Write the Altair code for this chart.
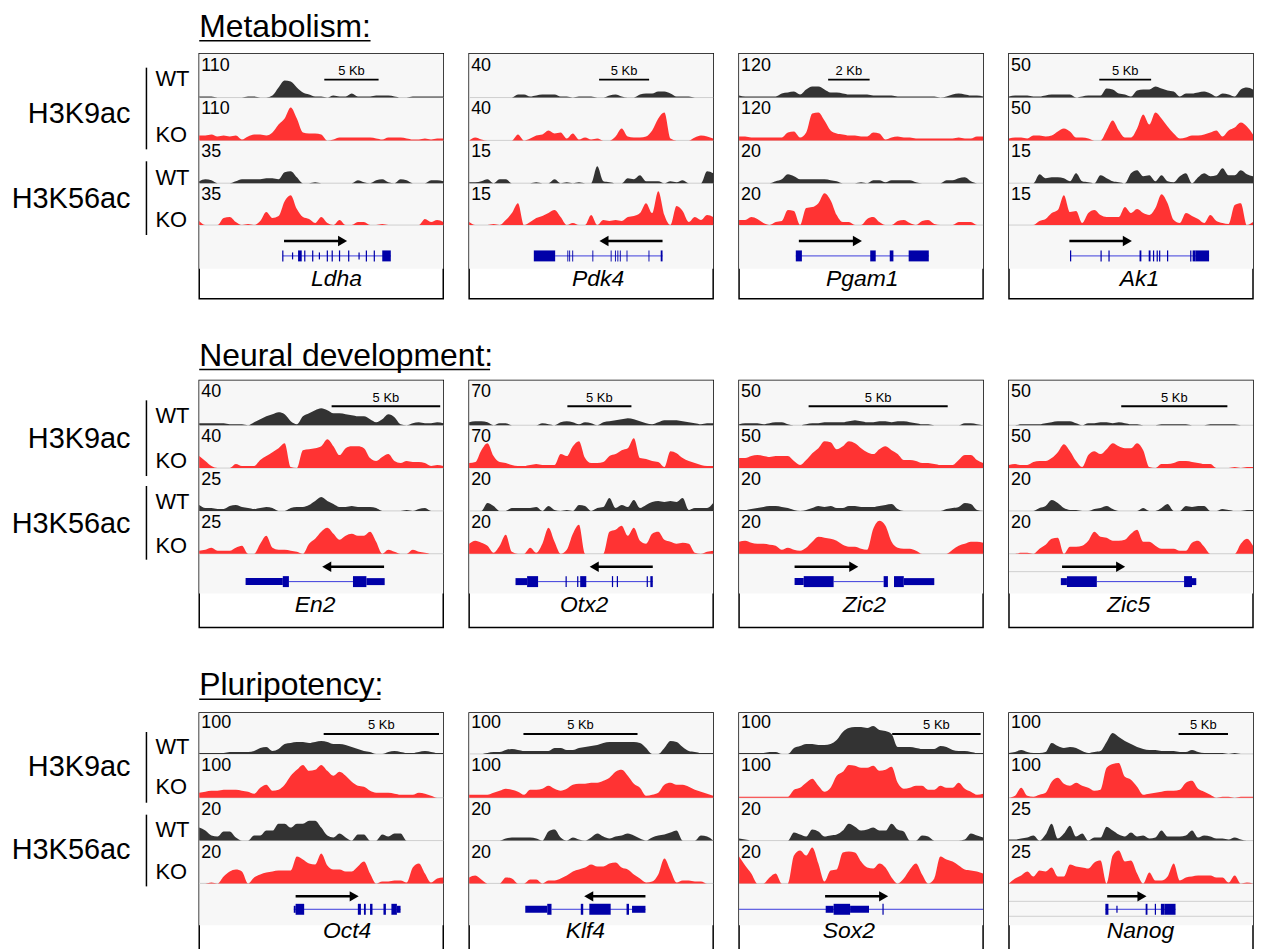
import altair as alt
import pandas as pd

FONT = "Liberation Sans"
TRACK_NAMES = ["WT_K9", "KO_K9", "WT_K56", "KO_K56"]
TRACK_COLORS = ["#333333", "#ff3333", "#333333", "#ff3333"]

# ---------------- Metabolism ----------------
LDHA_WT_K9 = [1,1,1,0,0,0,0,0,1,1,0,0,2,10,17,16,10,5,3,1,1,0,2,1,1,4,1,1,1,2,2,2,1,0,0,1,1,1,1,1,1]
LDHA_KO_K9 = [5,5,6,4,5,4,5,1,4,6,6,5,8,16,22,33,22,8,7,7,6,0,1,3,3,3,3,3,3,2,1,3,3,3,2,1,1,2,1,2,2]
LDHA_WT_K56 = [2,4,3,0,0,0,2,4,4,4,4,5,5,4,11,12,6,0,0,1,0,0,0,0,0,0,3,1,0,3,4,1,0,4,3,0,0,0,3,3,2]
LDHA_KO_K56 = [4,0,0,0,7,8,3,0,1,0,4,13,7,9,24,30,16,8,6,2,8,2,0,5,0,0,3,3,0,0,1,0,0,0,0,0,0,6,3,5,3]
LDHA_RANGES = ["110", "110", "35", "35"]
LDHA_BAR = [20.5, 29.4]
LDHA_ARROW = [13.9, 24.3]
LDHA_LINE = [13.7, 31.4]
LDHA_EXONS = [(13.6,13.8,2),(15.2,15.4,1),(16.2,16.8,2),(17.2,17.4,2),(18.5,18.7,2),(19.6,19.8,1),
              (20.9,21.1,2),(21.7,21.9,2),(22.9,23.1,2),(24.4,24.6,2),(26.1,26.3,1),(27.3,27.5,2),
              (28.6,28.8,2),(30.0,31.4,2)]

PDK4_WT_K9 = [0,0,0,0,0,0,0,0,3,3,1,2,3,3,3,1,1,0,1,1,1,0,0,2,3,1,0,0,3,4,4,6,6,4,1,1,1,0,0,0,0]
PDK4_KO_K9 = [0,3,1,0,0,0,0,0,6,0,2,5,6,10,7,8,2,7,1,3,1,2,0,0,4,12,4,3,3,4,10,22,28,2,0,0,0,3,5,4,2]
PDK4_WT_K56 = [1,1,2,4,0,4,4,0,0,0,0,1,0,0,4,0,1,0,1,0,0,17,2,1,0,0,5,4,8,2,2,2,0,2,1,3,0,0,0,12,10]
PDK4_KO_K56 = [3,0,0,0,1,0,5,12,22,0,3,7,9,12,15,8,0,2,0,0,10,0,5,4,5,4,8,9,12,22,12,34,10,0,19,14,3,8,5,10,8]
PDK4_RANGES = ["40", "40", "15", "15"]
PDK4_BAR = [21.3, 29.5]
PDK4_ARROW = [31.7, 21.3]
PDK4_LINE = [14.1, 31.7]
PDK4_EXONS = [(10.6,14.1,2),(16.1,16.25,2),(16.4,16.55,2),(16.9,17.05,2),(20.2,20.35,2),(23.2,23.35,2),
              (23.9,24.05,2),(24.3,24.45,2),(24.7,24.85,2),(25.8,25.95,2),(29.4,29.55,2),(31.4,31.7,2)]

PGAM1_WT_K9 = [2,1,1,1,1,1,1,4,5,6,3,8,11,11,8,5,5,4,3,3,3,3,2,2,2,2,1,1,1,1,1,1,1,0,1,3,4,3,2,2,1]
PGAM1_KO_K9 = [4,4,3,3,3,3,3,3,8,9,3,8,27,28,20,10,7,6,5,5,4,4,8,7,1,3,4,3,3,2,2,2,2,2,2,2,3,2,2,4,4]
PGAM1_WT_K56 = [0,0,0,0,0,0,2,4,9,7,4,4,4,4,4,3,2,0,0,0,1,0,3,3,1,3,3,3,3,1,0,0,0,0,3,3,5,6,2,0,0]
PGAM1_KO_K56 = [5,5,8,6,2,0,3,4,15,14,0,17,18,22,32,25,10,3,3,0,0,6,8,3,0,0,4,5,2,0,4,5,1,0,0,0,3,3,3,0,0]
PGAM1_RANGES = ["120", "120", "20", "20"]
PGAM1_BAR = [14.6, 21.4]
PGAM1_ARROW = [9.8, 20.2]
PGAM1_LINE = [9.3, 31.1]
PGAM1_EXONS = [(9.3,10.3,2),(21.5,22.4,2),(24.7,25.3,2),(27.8,31.1,2)]

AK1_WT_K9 = [1,2,2,2,1,1,2,3,3,3,3,0,1,2,2,2,9,8,4,3,1,7,8,8,11,9,7,6,1,4,4,5,6,4,1,4,3,1,8,10,8]
AK1_KO_K9 = [2,3,3,2,5,5,4,5,9,12,9,3,3,2,0,0,10,20,10,3,3,12,26,16,28,22,14,7,2,3,5,5,6,8,10,4,10,13,18,14,6]
AK1_WT_K56 = [0,0,0,0,0,9,5,6,6,5,2,10,2,1,0,8,5,2,1,0,10,13,7,8,2,8,2,1,7,10,0,6,10,7,8,15,8,8,13,9,7]
AK1_KO_K56 = [0,0,0,0,0,4,6,12,15,30,13,14,2,12,15,10,8,8,8,18,12,16,12,10,17,31,22,5,2,12,9,6,2,10,4,2,1,20,22,0,3]
AK1_RANGES = ["50", "50", "15", "15"]
AK1_BAR = [14.8, 23.3]
AK1_ARROW = [9.9, 20.2]
AK1_LINE = [10.1, 32.8]
AK1_EXONS = [(10.0,10.2,2),(15.0,15.2,2),(16.3,16.5,2),(21.4,21.7,2),(22.9,23.2,2),(23.6,23.8,2),
             (24.2,24.4,2),(24.6,24.8,2),(25.9,26.1,2),(29.7,29.9,2),(30.1,30.6,2),(30.6,32.8,2)]

# ---------------- Neural development ----------------
EN2_WT_K9 = [2,2,2,2,2,1,1,1,0,3,6,9,11,13,11,4,1,9,12,15,17,15,12,12,11,10,9,9,6,3,6,11,8,1,0,2,3,2,2,3,2]
EN2_KO_K9 = [12,7,2,0,0,0,4,2,2,2,8,12,16,20,25,1,0,18,19,20,22,29,22,13,20,22,22,20,10,7,11,14,7,5,7,6,6,5,2,3,2]
EN2_WT_K56 = [6,3,3,2,2,5,6,4,3,2,3,4,3,0,0,3,4,4,6,10,14,10,7,4,4,5,4,4,4,3,0,0,0,0,1,0,2,3,0,0,0]
EN2_KO_K56 = [3,4,6,3,3,3,6,8,0,0,10,18,6,4,4,3,2,0,10,15,22,26,20,14,18,20,18,18,22,12,0,4,2,0,0,4,2,1,0,0,0]
EN2_RANGES = ["40", "40", "25", "25"]
EN2_BAR = [21.7, 39.5]
EN2_ARROW = [30.3, 20.1]
EN2_LINE = [14.7, 25.2]
EN2_EXONS = [(7.6,13.7,1),(13.7,14.7,2),(25.2,27.4,2),(27.4,30.4,1)]

OTX2_WT_K9 = [3,4,4,3,0,2,2,0,0,0,0,0,2,1,0,3,4,3,1,3,2,0,3,4,5,6,7,6,4,2,1,3,5,5,5,4,3,2,1,2,2]
OTX2_KO_K9 = [5,6,18,25,12,6,5,3,2,2,3,4,3,3,3,14,12,22,27,10,5,5,6,12,14,18,20,30,10,9,7,6,1,17,15,10,7,5,3,2,2]
OTX2_WT_K56 = [0,0,0,8,5,0,0,3,3,3,3,4,0,5,1,0,1,0,6,5,0,3,4,13,3,6,4,11,3,6,9,10,9,10,9,13,1,3,3,3,8]
OTX2_KO_K56 = [10,13,11,8,1,8,19,2,0,0,6,1,10,26,12,0,4,20,29,0,0,0,0,22,24,28,18,26,13,10,20,22,14,12,10,11,10,1,0,2,3]
OTX2_RANGES = ["70", "70", "20", "20"]
OTX2_BAR = [16.1, 26.6]
OTX2_ARROW = [30.1, 19.7]
OTX2_LINE = [11.3, 30.1]
OTX2_EXONS = [(7.6,9.5,1),(9.5,11.3,2),(15.8,16.0,2),(17.7,17.9,2),(18.2,19.2,2),(23.4,23.6,2),
              (24.2,24.4,2),(29.1,29.3,2),(29.7,30.1,2)]

ZIC2_WT_K9 = [1,2,2,2,1,2,3,3,1,0,0,1,2,2,3,3,3,3,4,5,4,3,3,4,4,3,4,4,3,2,1,1,0,0,0,0,0,2,2,1,0]
ZIC2_KO_K9 = [10,10,12,13,12,11,12,12,12,7,3,8,15,20,27,26,19,22,27,25,20,16,14,19,22,18,14,8,8,7,5,5,4,3,3,3,8,13,13,8,5]
ZIC2_WT_K56 = [1,1,2,3,4,5,5,4,3,1,0,1,3,5,4,5,3,3,5,5,4,4,4,5,6,7,2,0,0,0,0,0,0,0,2,3,4,8,7,1,0]
ZIC2_KO_K56 = [12,13,11,10,10,9,8,4,6,4,3,6,12,17,16,15,13,9,7,7,5,4,25,33,28,12,6,5,5,3,0,0,0,0,0,4,8,10,12,12,11]
ZIC2_RANGES = ["50", "50", "20", "20"]
ZIC2_BAR = [11.4, 34.2]
ZIC2_ARROW = [9.1, 19.6]
ZIC2_LINE = [15.5, 23.7]
ZIC2_EXONS = [(9.1,10.6,1),(10.6,15.5,2),(23.7,24.4,2),(25.4,27.0,2),(27.0,32.0,1)]

ZIC5_WT_K9 = [0,0,1,1,1,1,2,3,4,4,4,2,0,2,2,3,3,2,3,2,1,1,0,0,0,1,1,1,1,1,0,0,0,1,1,1,1,1,0,0,0]
ZIC5_KO_K9 = [3,4,3,3,6,7,7,10,16,24,17,7,1,13,17,14,19,25,22,20,20,25,18,1,0,4,4,5,7,7,6,5,4,4,0,0,0,1,0,1,1]
ZIC5_WT_K56 = [0,0,0,0,0,3,5,11,8,3,1,1,0,0,2,3,5,2,0,0,0,0,3,0,0,3,7,0,0,5,4,5,5,0,0,2,1,0,0,1,1]
ZIC5_KO_K56 = [0,0,1,1,0,5,9,15,16,0,7,7,8,13,22,17,16,13,13,14,20,24,12,12,8,5,5,5,3,3,11,13,7,0,0,0,0,0,10,15,8]
ZIC5_RANGES = ["50", "50", "20", "20"]
ZIC5_BAR = [18.4, 35.8]
ZIC5_ARROW = [8.7, 19.1]
ZIC5_LINE = [14.4, 28.7]
ZIC5_EXONS = [(8.5,9.5,1),(9.5,14.4,2),(28.7,30.0,2),(30.0,30.7,1)]

# ---------------- Pluripotency ----------------
OCT4_WT_K9 = [1,1,1,1,1,2,2,2,2,3,6,7,3,5,10,11,12,12,11,12,13,12,10,10,9,7,5,3,2,0,0,2,3,2,1,1,2,3,2,1,1]
OCT4_KO_K9 = [5,6,7,7,8,8,8,7,6,4,10,13,7,8,13,22,28,33,27,28,33,27,22,26,22,16,12,11,7,5,5,5,4,3,3,3,5,4,2,0,0]
OCT4_WT_K56 = [13,10,5,4,9,9,3,0,0,5,5,10,10,17,17,13,17,17,20,20,13,5,3,7,3,0,6,6,0,0,6,4,7,7,0,0,0,0,0,0,0]
OCT4_KO_K56 = [0,0,1,0,7,12,14,12,0,6,9,11,12,13,13,13,27,24,20,19,30,18,14,14,12,12,17,22,10,0,2,2,3,3,1,16,20,10,1,5,6]
OCT4_RANGES = ["100", "100", "20", "20"]
OCT4_BAR = [20.4, 39.3]
OCT4_ARROW = [15.8, 26.2]
OCT4_LINE = [15.5, 33.0]
OCT4_EXONS = [(15.5,15.8,1),(15.8,17.2,2),(26.0,26.5,2),(27.0,27.3,2),(28.0,28.4,2),(30.2,30.6,2),
              (31.5,32.4,2),(32.4,33.0,1)]

KLF4_WT_K9 = [0,0,0,1,2,2,4,5,4,3,3,3,3,3,6,6,4,4,6,7,8,9,11,12,12,12,12,12,11,6,0,0,6,13,12,7,3,2,1,1,1]
KLF4_KO_K9 = [3,3,3,3,5,7,9,8,6,3,8,8,9,12,9,7,9,13,14,14,15,15,17,20,26,28,22,14,10,2,3,5,13,15,13,13,11,8,6,4,2]
KLF4_WT_K56 = [0,0,0,0,0,0,2,3,3,3,3,2,0,9,11,3,0,3,1,0,3,7,4,2,4,5,7,5,2,0,3,5,6,8,10,0,0,0,5,4,0]
KLF4_KO_K56 = [6,8,4,0,0,0,6,5,0,0,4,4,0,3,3,5,8,12,14,16,19,17,17,20,21,16,14,9,5,1,2,9,25,13,1,3,3,2,2,0,0]
KLF4_RANGES = ["100", "100", "20", "20"]
KLF4_BAR = [8.9, 27.6]
KLF4_ARROW = [28.9, 18.8]
KLF4_LINE = [13.5, 28.9]
KLF4_EXONS = [(9.2,12.8,1),(12.8,13.5,2),(18.3,18.7,2),(19.7,23.2,2),(25.8,26.2,2),(26.7,28.9,1)]

SOX2_WT_K9 = [1,1,1,1,1,2,2,0,0,6,8,10,10,9,9,10,14,22,26,27,27,26,28,24,23,20,7,7,7,6,5,5,5,8,7,4,3,3,2,1,1]
SOX2_KO_K9 = [1,1,1,1,1,1,1,1,1,8,10,15,19,12,6,10,22,26,33,32,30,30,32,27,28,31,15,9,10,12,12,8,8,12,10,10,15,9,6,3,4]
SOX2_WT_K56 = [2,1,0,0,0,0,0,0,0,8,6,4,11,9,4,5,6,10,17,14,10,11,13,10,10,17,11,9,0,0,5,4,0,0,0,0,0,1,7,5,3]
SOX2_KO_K56 = [27,18,10,0,0,6,10,0,0,28,33,28,36,20,2,13,14,31,32,31,22,16,15,20,16,6,0,5,14,20,9,0,5,27,24,22,18,14,13,12,10]
SOX2_RANGES = ["100", "100", "20", "20"]
SOX2_BAR = [25.1, 39.6]
SOX2_ARROW = [14.1, 24.5]
SOX2_LINE = [0.0, 40.0]
SOX2_EXONS = [(14.2,15.5,1),(15.5,18.2,2),(18.2,21.3,1),(23.5,23.7,2)]

NANOG_WT_K9 = [1,2,4,2,1,1,2,11,8,6,7,6,3,1,2,3,12,21,17,13,10,7,5,4,4,3,3,3,2,2,4,2,1,1,1,1,0,1,0,0,0]
NANOG_KO_K9 = [0,2,10,2,1,3,5,16,20,14,12,15,12,10,7,8,30,34,35,21,18,11,3,4,5,6,7,7,8,15,17,9,6,3,0,1,1,0,1,1,1]
NANOG_WT_K56 = [1,1,2,3,5,0,6,17,2,7,15,4,7,0,3,3,14,10,6,4,8,4,5,2,3,10,4,4,4,5,10,3,5,4,2,2,1,3,1,0,0]
NANOG_KO_K56 = [0,5,8,12,7,13,12,16,7,7,19,17,16,15,21,23,0,28,33,22,23,10,0,11,3,3,7,20,3,6,7,8,8,8,6,6,1,8,0,1,0]
NANOG_RANGES = ["100", "100", "25", "25"]
NANOG_BAR = [27.8, 35.9]
NANOG_ARROW = [16.1, 22.6]
NANOG_LINE = [15.8, 27.3]
NANOG_EXONS = [(15.8,16.3,2),(17.6,17.8,1),(22.4,22.7,2),(23.9,24.1,2),(24.9,25.5,2),(25.5,27.3,2)]


def P(name, tr, rg, bar, arrow, line, exons, label="5 Kb", extra=(), name_x=None):
    return dict(name=name, tracks=tr, ranges=rg, bar=bar, label=label, arrow=arrow,
                line=line, exons=exons, extra=list(extra), name_x=name_x)


PANELS = [
    P("Ldha", [LDHA_WT_K9, LDHA_KO_K9, LDHA_WT_K56, LDHA_KO_K56], LDHA_RANGES, LDHA_BAR, LDHA_ARROW, LDHA_LINE, LDHA_EXONS),
    P("Pdk4", [PDK4_WT_K9, PDK4_KO_K9, PDK4_WT_K56, PDK4_KO_K56], PDK4_RANGES, PDK4_BAR, PDK4_ARROW, PDK4_LINE, PDK4_EXONS),
    P("Pgam1", [PGAM1_WT_K9, PGAM1_KO_K9, PGAM1_WT_K56, PGAM1_KO_K56], PGAM1_RANGES, PGAM1_BAR, PGAM1_ARROW, PGAM1_LINE, PGAM1_EXONS, label="2 Kb"),
    P("Ak1", [AK1_WT_K9, AK1_KO_K9, AK1_WT_K56, AK1_KO_K56], AK1_RANGES, AK1_BAR, AK1_ARROW, AK1_LINE, AK1_EXONS),
    P("En2", [EN2_WT_K9, EN2_KO_K9, EN2_WT_K56, EN2_KO_K56], EN2_RANGES, EN2_BAR, EN2_ARROW, EN2_LINE, EN2_EXONS),
    P("Otx2", [OTX2_WT_K9, OTX2_KO_K9, OTX2_WT_K56, OTX2_KO_K56], OTX2_RANGES, OTX2_BAR, OTX2_ARROW, OTX2_LINE, OTX2_EXONS),
    P("Zic2", [ZIC2_WT_K9, ZIC2_KO_K9, ZIC2_WT_K56, ZIC2_KO_K56], ZIC2_RANGES, ZIC2_BAR, ZIC2_ARROW, ZIC2_LINE, ZIC2_EXONS),
    P("Zic5", [ZIC5_WT_K9, ZIC5_KO_K9, ZIC5_WT_K56, ZIC5_KO_K56], ZIC5_RANGES, ZIC5_BAR, ZIC5_ARROW, ZIC5_LINE, ZIC5_EXONS, extra=[192]),
    P("Oct4", [OCT4_WT_K9, OCT4_KO_K9, OCT4_WT_K56, OCT4_KO_K56], OCT4_RANGES, OCT4_BAR, OCT4_ARROW, OCT4_LINE, OCT4_EXONS),
    P("Klf4", [KLF4_WT_K9, KLF4_KO_K9, KLF4_WT_K56, KLF4_KO_K56], KLF4_RANGES, KLF4_BAR, KLF4_ARROW, KLF4_LINE, KLF4_EXONS),
    P("Sox2", [SOX2_WT_K9, SOX2_KO_K9, SOX2_WT_K56, SOX2_KO_K56], SOX2_RANGES, SOX2_BAR, SOX2_ARROW, SOX2_LINE, SOX2_EXONS, name_x=18.0),
    P("Nanog", [NANOG_WT_K9, NANOG_KO_K9, NANOG_WT_K56, NANOG_KO_K56], NANOG_RANGES, NANOG_BAR, NANOG_ARROW, NANOG_LINE, NANOG_EXONS, extra=[189, 204]),
]

# layout of each section (pixel offsets inside a panel / title cell, from its top)
ROWS = [
    dict(title="Metabolism:", ulen=172, th=42, ty=25, ly=29, h=246, base=[44, 87, 130, 172], num0=12,
         bg=216, arrow=188, gene=203, name=226, sb=26, sbt=17,
         wt=[25, 125], ko=[82, 167], mark=[61, 146], bars=[(14, 96), (108, 182)]),
    dict(title="Neural development:", ulen=292, th=82, ty=68, ly=71, h=248, base=[45, 88, 131, 174], num0=12,
         bg=214, arrow=187, gene=202, name=226, sb=26, sbt=18,
         wt=[36, 122], ko=[81, 166], mark=[59, 144], bars=[(20, 96), (106, 180)]),
    dict(title="Pluripotency:", ulen=182, th=86, ty=68, ly=72, h=246, base=[41, 85, 128, 171], num0=10,
         bg=213, arrow=184, gene=197, name=219, sb=21, sbt=12,
         wt=[34, 117], ko=[74, 160], mark=[54, 138], bars=[(19, 90), (102, 174)]),
]

W = 245
NX = 40
LABEL_W = 165


def panel(p, r):
    H = r["h"]
    xs = alt.Scale(domain=[0, NX], nice=False, zero=False)
    ys = alt.Scale(domain=[0, H], nice=False, zero=False, reverse=True)

    def X(f):
        return alt.X(f, scale=xs, axis=None)

    def Y(f):
        return alt.Y(f, scale=ys, axis=None)

    rows = []
    for k, vals in enumerate(p["tracks"]):
        n = len(vals)
        b = r["base"][k]
        for i, v in enumerate(vals):
            rows.append(dict(track=TRACK_NAMES[k], x=i * NX / (n - 1), top=b - v, base=b))
    sig = pd.DataFrame(rows)

    bg = alt.Chart(pd.DataFrame({"y0": [0], "y1": [r["bg"]]})).mark_rect(color="#f7f7f7").encode(
        x=alt.value(0), x2=alt.value(W), y=Y("y0:Q"), y2="y1:Q")
    seps = alt.Chart(pd.DataFrame({"y": r["base"] + p["extra"]})).mark_rule(
        color="#cfcfcf", strokeWidth=1).encode(x=alt.value(0), x2=alt.value(W), y=Y("y:Q"))
    areas = alt.Chart(sig).mark_area(interpolate="monotone").encode(
        x=X("x:Q"), y=alt.Y("top:Q", scale=ys, axis=None, stack=False), y2="base:Q",
        color=alt.Color("track:N", scale=alt.Scale(domain=TRACK_NAMES, range=TRACK_COLORS), legend=None))
    num_y = [r["num0"]] + [b + 12 for b in r["base"][:3]]
    nums = alt.Chart(pd.DataFrame({"y": num_y, "t": p["ranges"]})).mark_text(
        align="left", baseline="middle", fontSize=18, font=FONT, color="black").encode(
        x=alt.value(2), y=Y("y:Q"), text="t:N")
    b0, b1 = p["bar"]
    sbar = alt.Chart(pd.DataFrame({"x0": [b0], "x1": [b1], "y": [r["sb"]]})).mark_rule(
        color="black", strokeWidth=2).encode(x=X("x0:Q"), x2="x1:Q", y=Y("y:Q"))
    slab = alt.Chart(pd.DataFrame({"x": [(b0 + b1) / 2], "y": [r["sbt"]], "t": [p["label"]]})).mark_text(
        fontSize=13, font=FONT, baseline="middle", color="black").encode(x=X("x:Q"), y=Y("y:Q"), text="t:N")
    a0, a1 = p["arrow"]
    d = 1 if a1 > a0 else -1
    head_x = a1 - d * 0.8
    aline = alt.Chart(pd.DataFrame({"x0": [a0], "x1": [head_x], "y": [r["arrow"]]})).mark_rule(
        color="black", strokeWidth=2.5).encode(x=X("x0:Q"), x2="x1:Q", y=Y("y:Q"))
    ahead = alt.Chart(pd.DataFrame({"x": [head_x], "y": [r["arrow"]]})).mark_point(
        shape="triangle-right" if d > 0 else "triangle-left", filled=True, size=110,
        color="black", opacity=1).encode(x=X("x:Q"), y=Y("y:Q"))
    l0, l1 = p["line"]
    gy = r["gene"]
    intron = alt.Chart(pd.DataFrame({"x0": [l0], "x1": [l1], "y": [gy]})).mark_rule(
        color="#3b3bdc", strokeWidth=1).encode(x=X("x0:Q"), x2="x1:Q", y=Y("y:Q"))
    ex = pd.DataFrame([dict(x0=e0, x1=e1, y0=gy - (5.5 if kd == 2 else 3.5), y1=gy + (5.5 if kd == 2 else 3.5))
                       for e0, e1, kd in p["exons"]])
    exons = alt.Chart(ex).mark_rect(color="#0000a8").encode(x=X("x0:Q"), x2="x1:Q", y=Y("y0:Q"), y2="y1:Q")
    nx = p["name_x"]
    if nx is None:
        nx = (min(e[0] for e in p["exons"]) + max(e[1] for e in p["exons"])) / 2
    gname = alt.Chart(pd.DataFrame({"x": [nx], "y": [r["name"]], "t": [p["name"]]})).mark_text(
        fontSize=23, font=FONT, fontStyle="italic", baseline="middle", color="black").encode(
        x=X("x:Q"), y=Y("y:Q"), text="t:N")
    return alt.layer(bg, seps, areas, nums, sbar, slab, aline, ahead, intron, exons, gname).properties(
        width=W, height=H, view=alt.ViewBackground(stroke="black", strokeWidth=1.5))


def label_chart(r):
    H = r["h"]
    ys = alt.Scale(domain=[0, H], nice=False, zero=False, reverse=True)
    big = alt.Chart(pd.DataFrame({"y": r["mark"], "t": ["H3K9ac", "H3K56ac"]})).mark_text(
        align="right", baseline="middle", fontSize=29, font=FONT, color="black").encode(
        x=alt.value(122), y=alt.Y("y:Q", scale=ys, axis=None), text="t:N")
    small = alt.Chart(pd.DataFrame({"y": [r["wt"][0], r["ko"][0], r["wt"][1], r["ko"][1]],
                                    "t": ["WT", "KO", "WT", "KO"]})).mark_text(
        align="left", baseline="middle", fontSize=22, font=FONT, color="black").encode(
        x=alt.value(147), y=alt.Y("y:Q", scale=ys, axis=None), text="t:N")
    bars = alt.Chart(pd.DataFrame({"y0": [b[0] for b in r["bars"]], "y1": [b[1] for b in r["bars"]]})).mark_rule(
        color="black", strokeWidth=1.5).encode(x=alt.value(138), y=alt.Y("y0:Q", scale=ys, axis=None), y2="y1:Q")
    return alt.layer(big, small, bars).properties(width=LABEL_W, height=H)


def title_chart(r):
    t = alt.Chart(pd.DataFrame({"t": [r["title"]]})).mark_text(
        align="left", baseline="alphabetic", fontSize=32, font=FONT, color="black").encode(
        x=alt.value(191), y=alt.value(r["ty"]), text="t:N")
    u = alt.Chart(pd.DataFrame({"a": [0]})).mark_rule(color="black", strokeWidth=1.5).encode(
        x=alt.value(191), x2=alt.value(191 + r["ulen"]), y=alt.value(r["ly"]))
    return alt.layer(t, u).properties(width=LABEL_W, height=r["th"])


def blank(h):
    return alt.Chart(pd.DataFrame({"a": [0]})).mark_point(opacity=0, size=1).encode(
        x=alt.value(30), y=alt.value(h / 2)).properties(width=W, height=h)


cells = []
for ri, r in enumerate(ROWS):
    cells.append(title_chart(r))
    cells.extend(blank(r["th"]) for _ in range(4))
    cells.append(label_chart(r))
    cells.extend(panel(p, r) for p in PANELS[ri * 4:(ri + 1) * 4])

chart = alt.concat(*cells, columns=5, spacing={"row": 0, "column": 26}, bounds="flush").properties(
    padding=0).configure(font=FONT, view=alt.ViewConfig(stroke="transparent"))

chart.save("out.html", embed_options={"renderer": "svg", "actions": False})
